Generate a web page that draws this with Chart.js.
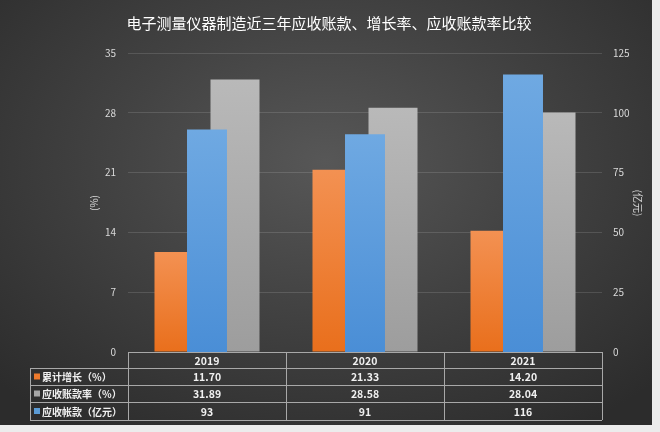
<!DOCTYPE html>
<html>
<head>
<meta charset="utf-8">
<script src="https://cdn.jsdelivr.net/npm/chart.js@4.4.1/dist/chart.umd.min.js"></script>
<style>
  html, body { margin: 0; padding: 0; background: #ececec; }
  #wrap {
    position: absolute; left: 0; top: 0; width: 652px; height: 425px;
    background: radial-gradient(ellipse 70% 75% at 50% 38%, #575757 0%, #434343 45%, #2c2c2c 100%);
  }
  canvas { display: block; }
</style>
</head>
<body>
<div id="wrap"><canvas id="c"></canvas></div>
<script>
const title = '电子测量仪器制造近三年应收账款、增长率、应收账款率比较';
const years = ['2019', '2020', '2021'];
const growth = [11.70, 21.33, 14.20];      // 累计增长（%）
const arRate = [31.89, 28.58, 28.04];      // 应收账款率（%）
const arAmount = [93, 91, 116];            // 应收帐款（亿元）
const seriesNames = ['累计增长（%）', '应收账款率（%）', '应收帐款（亿元）'];
const leftTicks = [0, 7, 14, 21, 28, 35];
const rightTicks = [0, 25, 50, 75, 100, 125];
const leftAxisTitle = '(%)';
const rightAxisTitle = '(亿元)';

const FONT = '"Noto Sans CJK SC", "Noto Sans", sans-serif';

function barGradient(top, bottom) {
  return function (ctx) {
    const chart = ctx.chart;
    if (!chart.chartArea || ctx.type !== 'data') return bottom;
    const yScale = chart.scales[ctx.dataset.yAxisID];
    const yTop = yScale.getPixelForValue(ctx.raw);
    const yBot = yScale.getPixelForValue(0);
    const g = chart.ctx.createLinearGradient(0, yTop, 0, yBot);
    g.addColorStop(0, top);
    g.addColorStop(1, bottom);
    return g;
  };
}

const tablePlugin = {
  id: 'tablePlugin',
  afterDraw(chart) {
    const c = chart.ctx;
    const area = chart.chartArea;
    const xs = chart.scales.x;
    c.save();
    // title
    c.fillStyle = '#ffffff';
    c.font = '15px ' + FONT;
    c.textAlign = 'center';
    c.textBaseline = 'middle';
    c.fillText(title, 329, 23);

    // axis titles
    c.fillStyle = '#d9d9d9';
    c.font = '10px ' + FONT;
    c.save();
    c.translate(94, 203);
    c.rotate(-Math.PI / 2);
    c.fillText(leftAxisTitle, 0, 0);
    c.restore();
    c.save();
    c.translate(638, 203);
    c.rotate(Math.PI / 2);
    c.fillText(rightAxisTitle, 0, 0);
    c.restore();

    // table
    const left = area.left, right = area.right;
    const top = area.bottom;
    const legendLeft = 30;
    const rows = [top, top + 16, top + 33, top + 50, top + 68];
    const colW = (right - left) / years.length;
    c.strokeStyle = '#a8a8a8';
    c.lineWidth = 1;
    c.beginPath();
    c.moveTo(left, rows[0] + 0.5); c.lineTo(right, rows[0] + 0.5);
    for (let i = 1; i < rows.length; i++) {
      c.moveTo(legendLeft, Math.round(rows[i]) + 0.5);
      c.lineTo(right, Math.round(rows[i]) + 0.5);
    }
    for (let j = 0; j <= years.length; j++) {
      const x = Math.round(left + j * colW) + 0.5;
      c.moveTo(x, rows[0]); c.lineTo(x, rows[4]);
    }
    c.moveTo(legendLeft + 0.5, rows[1]); c.lineTo(legendLeft + 0.5, rows[4]);
    c.stroke();

    c.fillStyle = '#f0f0f0';
    c.font = 'bold 10.5px ' + FONT;
    c.textAlign = 'center';
    const values = [
      growth.map(v => v.toFixed(2)),
      arRate.map(v => v.toFixed(2)),
      arAmount.map(v => String(v))
    ];
    years.forEach((y, j) => {
      const cx = xs.getPixelForValue(j);
      c.fillText(y, cx, (rows[0] + rows[1]) / 2 + 1);
      for (let r = 0; r < 3; r++) {
        c.fillText(values[r][j], cx, (rows[r + 1] + rows[r + 2]) / 2 + 1);
      }
    });
    const markerColors = ['#ee7a2c', '#a6a6a6', '#5b9bd5'];
    c.textAlign = 'left';
    c.font = 'bold 10px ' + FONT;
    for (let r = 0; r < 3; r++) {
      const cy = (rows[r + 1] + rows[r + 2]) / 2;
      c.fillStyle = markerColors[r];
      c.fillRect(34, cy - 3, 6, 6);
      c.fillStyle = '#f0f0f0';
      c.fillText(seriesNames[r], 42, cy + 1);
    }
    c.restore();
  }
};

new Chart(document.getElementById('c'), {
  type: 'bar',
  data: {
    labels: years,
    datasets: [
      {
        label: seriesNames[0], data: growth, xAxisID: 'x', yAxisID: 'y',
        backgroundColor: barGradient('#f39152', '#e96f1c'),
        categoryPercentage: 0.709, barPercentage: 0.875, order: 0
      },
      {
        label: seriesNames[1], data: arRate, xAxisID: 'x', yAxisID: 'y',
        backgroundColor: barGradient('#b9b9b9', '#9d9d9d'),
        categoryPercentage: 0.709, barPercentage: 0.875, order: 0
      },
      {
        label: seriesNames[2], data: arAmount, xAxisID: 'x', yAxisID: 'y2',
        backgroundColor: barGradient('#6fa9e2', '#4a8ed6'),
        grouped: false,
        categoryPercentage: 0.253, barPercentage: 1, order: -1
      }
    ]
  },
  options: {
    responsive: true,
    maintainAspectRatio: false,
    animation: false,
    layout: { padding: { left: 0, right: 0, top: 53, bottom: 73 } },
    plugins: { legend: { display: false }, title: { display: false }, tooltip: { enabled: false } },
    scales: {
      x: { type: 'category', display: false, offset: true, grid: { display: false } },
      y: {
        position: 'left',
        min: leftTicks[0], max: leftTicks[leftTicks.length - 1],
        afterBuildTicks(s) { s.ticks = leftTicks.map(v => ({ value: v })); },
        afterFit(s) { s.width = 128; },
        border: { display: false },
        grid: { color: 'rgba(255,255,255,0.13)', drawTicks: false, lineWidth: 1 },
        ticks: { color: '#d9d9d9', font: { size: 10, family: FONT }, padding: 12 }
      },
      y2: {
        position: 'right',
        min: rightTicks[0], max: rightTicks[rightTicks.length - 1],
        afterBuildTicks(s) { s.ticks = rightTicks.map(v => ({ value: v })); },
        afterFit(s) { s.width = 50; },
        border: { display: false },
        grid: { display: false, drawTicks: false },
        ticks: { color: '#d9d9d9', font: { size: 10, family: FONT }, padding: 11 }
      }
    }
  },
  plugins: [tablePlugin]
});
</script>
</body>
</html>
